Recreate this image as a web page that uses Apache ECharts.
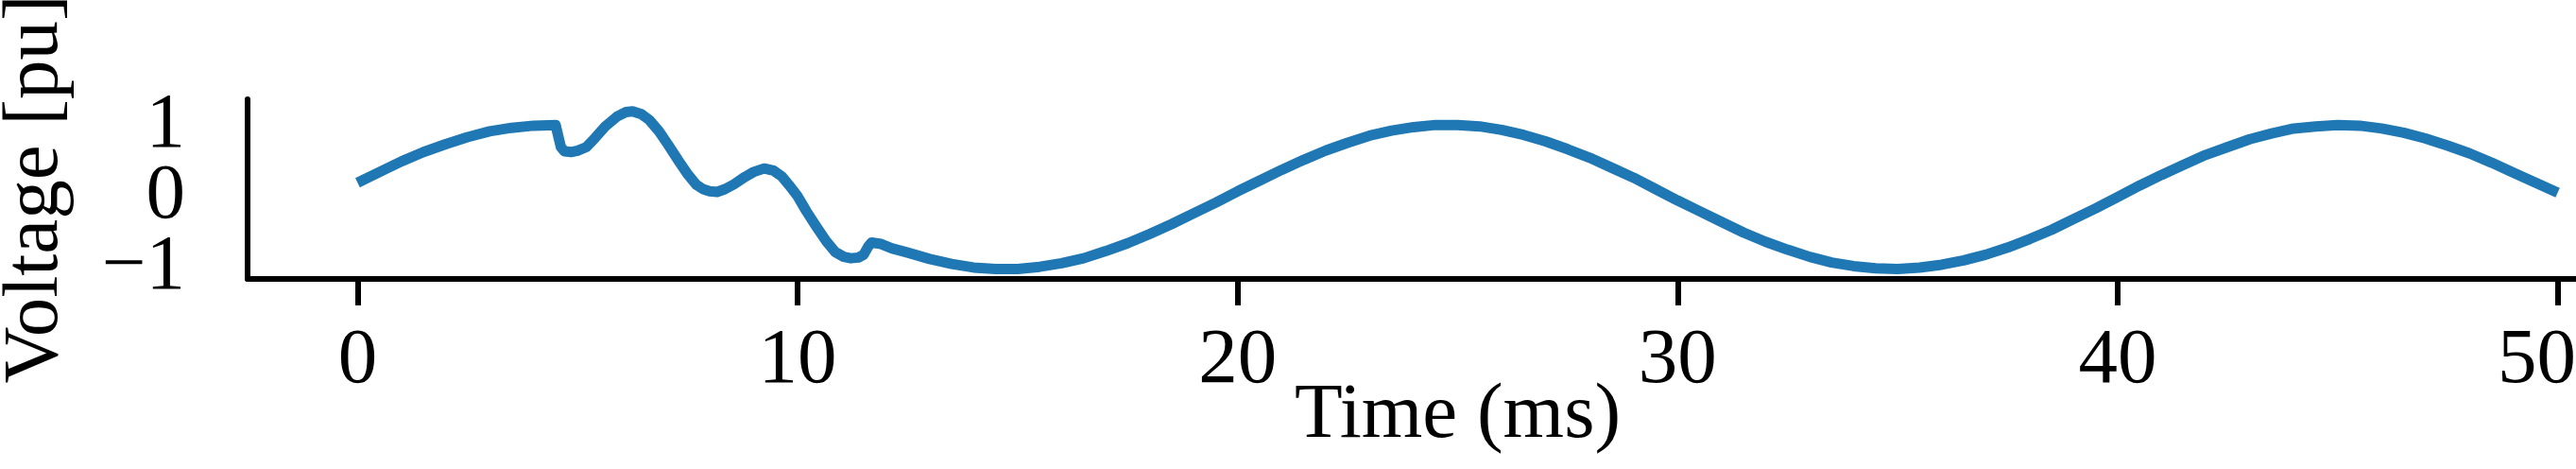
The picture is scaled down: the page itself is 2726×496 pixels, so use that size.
<!DOCTYPE html>
<html>
<head>
<meta charset="utf-8">
<script src="https://cdn.jsdelivr.net/npm/echarts@6/dist/echarts.min.js"></script>
<style>
html,body{margin:0;padding:0;background:#fff;}
#chart{width:2726px;height:496px;}
</style>
</head>
<body>
<div id="chart"></div>
<script>
// Time (ms)
const timeMs = [
  0, 0.5, 1, 1.5, 2, 2.5, 3, 3.5, 4, 4.5,
  4.62, 4.7, 4.85, 5.0, 5.2, 5.4, 5.63, 5.9, 6.1, 6.25, 6.45, 6.63, 6.85,
  7.06, 7.28, 7.49, 7.7, 7.85, 8.0, 8.17, 8.35, 8.56, 8.8, 9.0, 9.24, 9.45,
  9.64, 9.8, 9.99, 10.2, 10.42, 10.65, 10.85, 11.05, 11.21, 11.38, 11.5,
  11.6, 11.68, 11.9, 12.14,
  12.5, 13, 13.5, 14, 14.5, 15, 15.5, 16, 16.5, 17, 17.5, 18, 18.5, 19, 19.5,
  20, 20.5, 21, 21.5, 22, 22.5, 23, 23.5, 24, 24.5, 25, 25.5, 26, 26.5, 27,
  27.5, 28, 28.5, 29, 29.5, 30, 30.5, 31, 31.5, 32, 32.5, 33, 33.5, 34, 34.5,
  35, 35.5, 36, 36.5, 37, 37.5, 38, 38.5, 39, 39.5, 40, 40.5, 41, 41.5, 42,
  42.5, 43, 43.5, 44, 44.5, 45, 45.5, 46, 46.5, 47, 47.5, 48, 48.5, 49, 49.5, 50
];
// Voltage (pu)
const voltagePu = [
  0.20, 0.35, 0.50, 0.63, 0.74, 0.84, 0.92, 0.97, 1.00, 1.01,
  0.70, 0.64, 0.63, 0.65, 0.70, 0.83, 0.99, 1.13, 1.19, 1.20, 1.16, 1.08, 0.92,
  0.73, 0.52, 0.33, 0.17, 0.11, 0.08, 0.07, 0.11, 0.18, 0.28, 0.35, 0.40, 0.37,
  0.29, 0.17, 0.02, -0.20, -0.41, -0.62, -0.77, -0.84, -0.86, -0.85, -0.81,
  -0.70, -0.64, -0.66, -0.72,
  -0.78, -0.87, -0.94, -0.99, -1.01, -1.01, -0.98, -0.93, -0.86, -0.76, -0.65, -0.52, -0.38, -0.23, -0.08,
  0.08, 0.23, 0.38, 0.52, 0.65, 0.76, 0.86, 0.93, 0.98, 1.01, 1.01, 0.99, 0.94, 0.87, 0.78,
  0.67, 0.55, 0.41, 0.27, 0.11, -0.05, -0.20, -0.35, -0.50, -0.63, -0.74, -0.84, -0.92, -0.97, -1.00,
  -1.01, -0.99, -0.95, -0.89, -0.81, -0.71, -0.59, -0.46, -0.31, -0.16, 0.00, 0.16, 0.31, 0.45, 0.59,
  0.70, 0.81, 0.89, 0.96, 0.99, 1.01, 1.00, 0.96, 0.90, 0.82, 0.72, 0.61, 0.48, 0.34, 0.20, 0.06
];
const xTicks = [0, 10, 20, 30, 40, 50];
const yTicksOuter = [-1, 1];
const yTicksMiddle = [0];

const seriesData = timeMs.map((t, i) => [t, voltagePu[i]]);
const FONT = '"Liberation Serif", "Times New Roman", serif';
const FS = 83;
const Y_MIN = -1.15, Y_MAX = 1.37;
const fmtY = v => (v < 0 ? '\u2212' + Math.abs(v) : String(v));
const lastX = xTicks[xTicks.length - 1];

const chart = echarts.init(document.getElementById('chart'), null, {renderer: 'canvas'});
chart.setOption({
  animation: false,
  backgroundColor: '#ffffff',
  grid: { left: 262, top: 105, width: 2561, height: 190, containLabel: false, outerBoundsMode: 'none' },
  xAxis: {
    type: 'value',
    min: -2.5, max: 52.5,
    name: 'Time (ms)',
    nameLocation: 'middle',
    nameGap: 104,
    nameMoveOverlap: false,
    nameTextStyle: { fontFamily: FONT, fontSize: FS, color: '#000' },
    axisLine: { show: true, onZero: false, lineStyle: { color: '#000', width: 6 } },
    axisTick: { show: true, customValues: xTicks, length: 28, inside: false, lineStyle: { color: '#000', width: 6 } },
    axisLabel: {
      customValues: xTicks, margin: 46, fontFamily: FONT, fontSize: FS, color: '#000',
      showMinLabel: true, showMaxLabel: true,
      formatter: v => (v === lastX ? '{last|' + v + '}' : String(v)),
      rich: { last: { fontFamily: FONT, fontSize: FS, color: '#000', padding: [0, 44, 0, 0] } }
    },
    splitLine: { show: false }
  },
  yAxis: [{
    type: 'value',
    position: 'left',
    min: Y_MIN, max: Y_MAX,
    name: 'Voltage [pu]',
    nameLocation: 'middle',
    nameRotate: 90,
    nameGap: 182,
    nameMoveOverlap: false,
    nameTextStyle: { fontFamily: FONT, fontSize: FS, color: '#000' },
    axisLine: { show: true, onZero: false, lineStyle: { color: '#000', width: 6 } },
    axisTick: { show: false },
    axisLabel: {
      customValues: yTicksOuter, margin: 66, fontFamily: FONT, fontSize: FS, color: '#000',
      showMinLabel: true, showMaxLabel: true, formatter: fmtY
    },
    splitLine: { show: false }
  }, {
    type: 'value',
    position: 'left',
    offset: 0,
    min: Y_MIN, max: Y_MAX,
    axisLine: { show: false },
    axisTick: { show: false },
    axisLabel: {
      customValues: yTicksMiddle, margin: 66, fontFamily: FONT, fontSize: FS, color: '#000',
      showMinLabel: true, showMaxLabel: true, formatter: fmtY
    },
    splitLine: { show: false }
  }],
  series: [{
    type: 'line',
    yAxisIndex: 0,
    data: seriesData,
    showSymbol: false,
    symbol: 'none',
    smooth: false,
    lineStyle: { color: '#1f77b4', width: 11, cap: 'butt', join: 'round' }
  }]
});
</script>
</body>
</html>
